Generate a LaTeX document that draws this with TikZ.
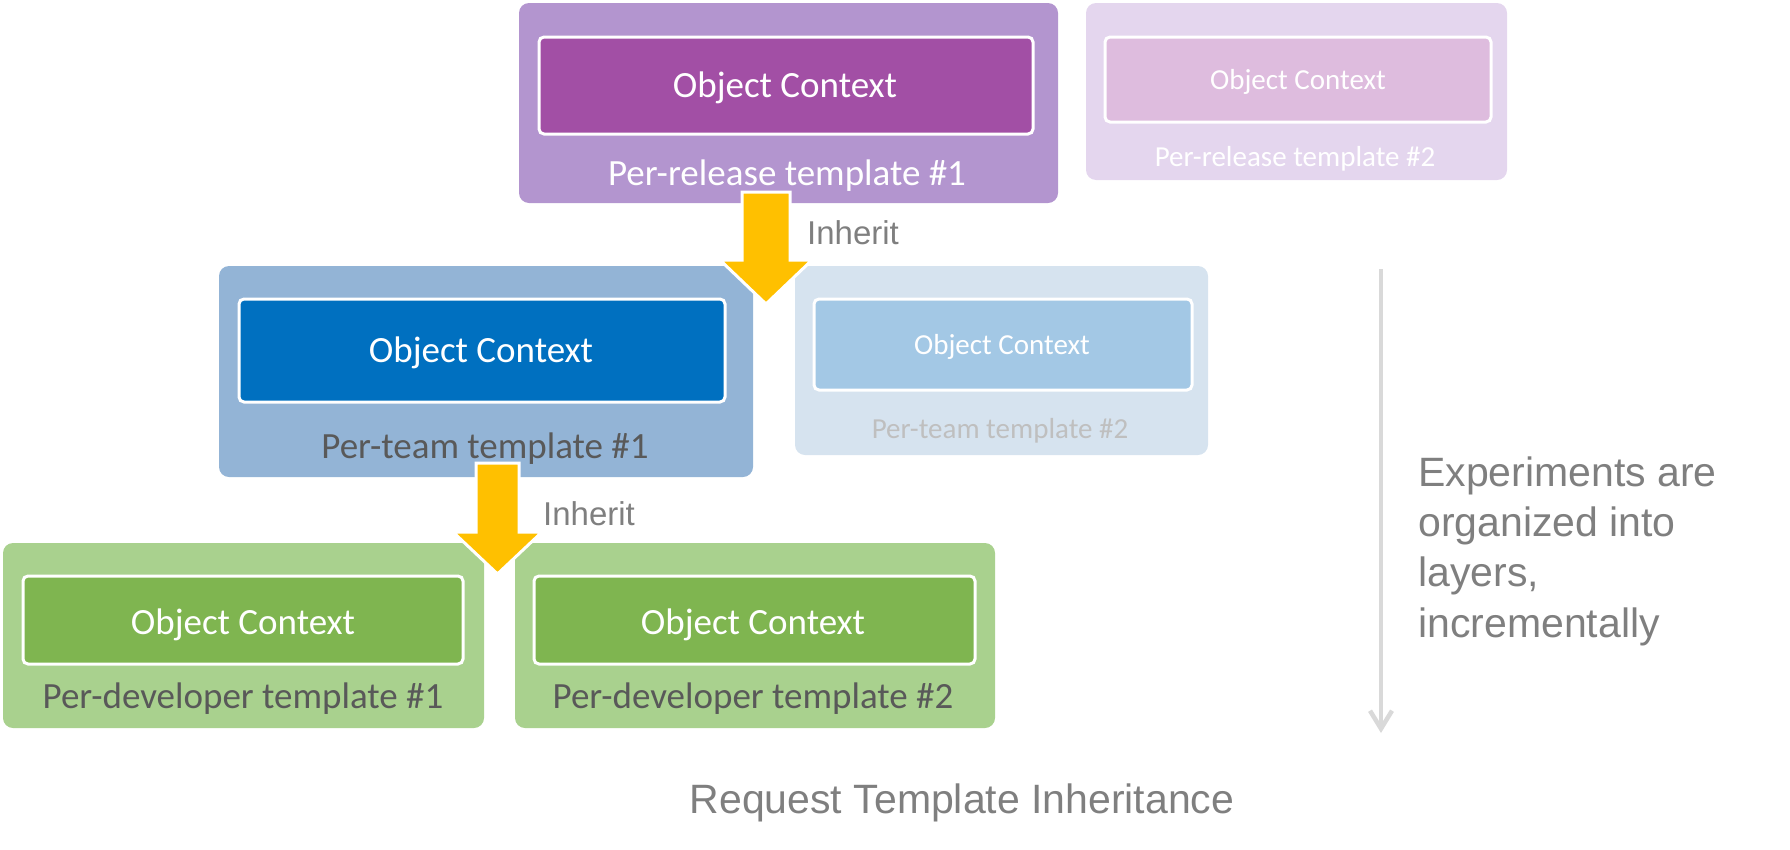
\documentclass[tikz,border=0pt]{standalone}
\usepackage{fontspec}
\setmainfont{Carlito}
\newfontfamily\arialf{Liberation Sans}
\usetikzlibrary{arrows.meta}
\definecolor{purO}{HTML}{B395CF}
\definecolor{purI}{HTML}{A24FA5}
\definecolor{purOf}{HTML}{E4D6EE}
\definecolor{purIf}{HTML}{DEBCDE}
\definecolor{bluO}{HTML}{93B4D6}
\definecolor{bluI}{HTML}{0070C0}
\definecolor{bluOf}{HTML}{D6E3EF}
\definecolor{bluIf}{HTML}{A3C8E5}
\definecolor{grnO}{HTML}{A9D18E}
\definecolor{grnI}{HTML}{7FB550}
\definecolor{arrY}{HTML}{FFC000}
\definecolor{txtD}{HTML}{595959}
\definecolor{txtL}{HTML}{BFBFBF}
\definecolor{txtG}{HTML}{7F7F7F}
\definecolor{lineG}{HTML}{D9D9D9}
\tikzset{
  outerbox/.style={rectangle, rounded corners=10pt, inner sep=0pt, draw=none},
  innerbox/.style={rectangle, rounded corners=5pt, inner sep=0pt, draw=white, line width=3pt},
  bigtxt/.style={inner sep=0pt, anchor=base, font=\fontsize{37}{44}\selectfont},
  smalltxt/.style={inner sep=0pt, anchor=base, font=\fontsize{29}{35}\selectfont},
  greytxt/.style={inner sep=0pt, text=txtG, font=\arialf\fontsize{41}{50}\selectfont},
  inhtxt/.style={inner sep=0pt, anchor=base west, text=txtG, font=\arialf\fontsize{33}{40}\selectfont},
  blockarrow/.style={fill=arrY, draw=white, line width=3pt, line join=miter},
}
\begin{document}
\begin{tikzpicture}[x=1pt,y=-1pt]
\useasboundingbox (0,0) rectangle (1790,849);
% per-release layer
\node[outerbox, fill=purO, minimum width=539pt, minimum height=200pt] (rel1) at (788.5,103) {};
\node[innerbox, fill=purI, minimum width=494pt, minimum height=97pt] (rel1oc) at (786,85.5) {};
\node[bigtxt, text=white] (rel1t) at (785,97.5) {Object Context};
\node[bigtxt, text=white] (rel1l) at (787,185.4) {Per-release template \#1};
\node[outerbox, fill=purOf, minimum width=421pt, minimum height=177pt] (rel2) at (1296.5,91.5) {};
\node[innerbox, fill=purIf, minimum width=386pt, minimum height=85pt] (rel2oc) at (1298,79.5) {};
\node[smalltxt, text=white] (rel2t) at (1298,89.2) {Object Context};
\node[smalltxt, text=white] (rel2l) at (1295,166.8) {Per-release template \#2};
% per-team layer
\node[outerbox, fill=bluO, minimum width=534pt, minimum height=211pt] (team1) at (486,371.5) {};
\node[innerbox, fill=bluI, minimum width=486pt, minimum height=103pt] (team1oc) at (482,350.5) {};
\node[bigtxt, text=white] (team1t) at (481,362.4) {Object Context};
\node[bigtxt, text=txtD] (team1l) at (485,458.3) {Per-team template \#1};
\node[outerbox, fill=bluOf, minimum width=413pt, minimum height=189pt] (team2) at (1001.5,360.5) {};
\node[innerbox, fill=bluIf, minimum width=378pt, minimum height=91pt] (team2oc) at (1003,344.5) {};
\node[smalltxt, text=white] (team2t) at (1002,354.1) {Object Context};
\node[smalltxt, text=txtL] (team2l) at (1000,438.5) {Per-team template \#2};
% per-developer layer
\node[outerbox, fill=grnO, minimum width=481pt, minimum height=185pt] (dev1) at (243.5,635.5) {};
\node[innerbox, fill=grnI, minimum width=440pt, minimum height=88pt] (dev1oc) at (243,620) {};
\node[bigtxt, text=white] (dev1t) at (243,634.1) {Object Context};
\node[bigtxt, text=txtD] (dev1l) at (243,708.3) {Per-developer template \#1};
\node[outerbox, fill=grnO, minimum width=480pt, minimum height=185pt] (dev2) at (755,635.5) {};
\node[innerbox, fill=grnI, minimum width=441pt, minimum height=88pt] (dev2oc) at (754.5,620) {};
\node[bigtxt, text=white] (dev2t) at (753,634.1) {Object Context};
\node[bigtxt, text=txtD] (dev2l) at (753,708.3) {Per-developer template \#2};
% inherit arrows
\draw[blockarrow] (742,192) -- (790,192) -- (790,260) -- (812,260) -- (766,304) -- (720,260) -- (742,260) -- cycle;
\node[inhtxt] (inh1) at (807,244.4) {Inherit};
\draw[blockarrow] (476,463) -- (519,463) -- (519,532) -- (542,532) -- (497.5,574) -- (453,532) -- (476,532) -- cycle;
\node[inhtxt] (inh2) at (543,525.2) {Inherit};
% side arrow and note
\coordinate (gtop) at (1381,269);
\coordinate (gbot) at (1381,733);
\draw[lineG, line width=4.5pt, -{Straight Barb[length=18pt,width=22pt]}] (gtop) -- (gbot);
\node[greytxt, anchor=base west] (n1) at (1418,486) {Experiments are};
\node[greytxt, anchor=base west] (n2) at (1418,536) {organized into};
\node[greytxt, anchor=base west] (n3) at (1418,586) {layers,};
\node[greytxt, anchor=base west] (n4) at (1418,637) {incrementally};
\node[greytxt, anchor=base] (title) at (962,813) {Request Template Inheritance};
\end{tikzpicture}
\end{document}
